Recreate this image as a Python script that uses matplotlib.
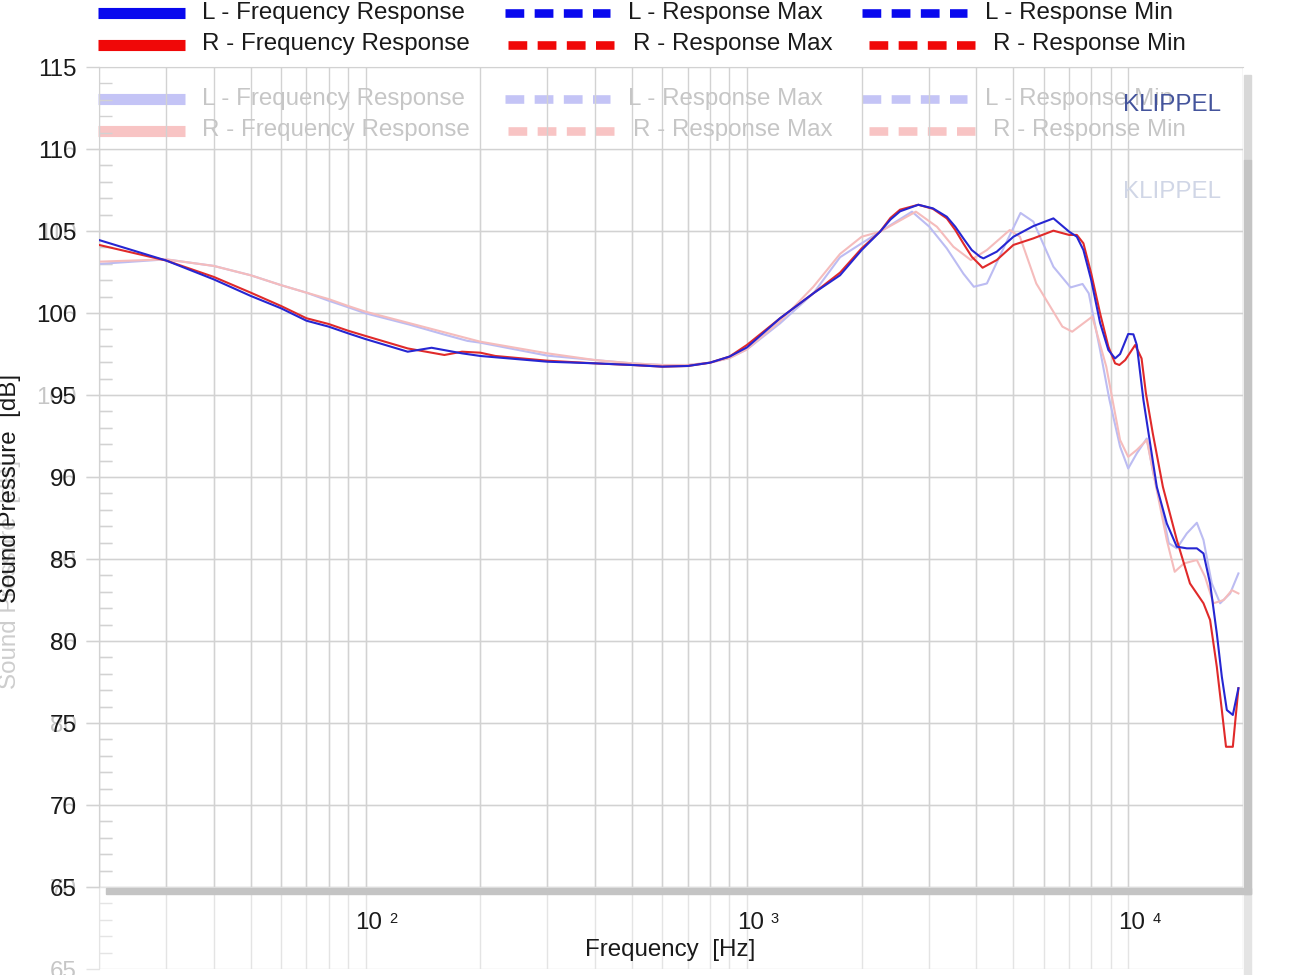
import matplotlib
matplotlib.use('Agg')
import matplotlib.pyplot as plt
from matplotlib.lines import Line2D
from matplotlib.patches import Rectangle
from matplotlib.transforms import offset_copy
import numpy as np

plt.rcParams['font.family'] = ['Liberation Sans', 'DejaVu Sans']
plt.rcParams['lines.scale_dashes'] = False

# ---------------- data ----------------
L_freq = [20, 30, 40, 50, 60, 70, 80, 90, 100, 129, 149, 179, 200, 219, 300, 400, 500, 600, 700, 800, 900, 1000,
          1222, 1494, 1755, 2000, 2235, 2380, 2522, 2816, 3076, 3344, 3520, 3696, 3888, 4089, 4172, 4522, 5000,
          5640, 6366, 7000, 7333, 7630, 8000, 8438, 8872, 9238, 9522, 10000, 10318, 10532, 10962, 11414, 11884,
          12622, 13412, 14246, 15136, 15754, 16396, 17074, 17600, 18140, 18808, 19454]
L_spl = [104.45, 103.2, 102.05, 101.04, 100.29, 99.53, 99.17, 98.76, 98.41, 97.64, 97.88, 97.54, 97.38, 97.3,
         97.03, 96.93, 96.83, 96.73, 96.77, 96.97, 97.34, 97.9, 99.68, 101.2, 102.3, 103.84, 104.96, 105.7, 106.2,
         106.6, 106.38, 105.87, 105.26, 104.55, 103.84, 103.43, 103.33, 103.74, 104.65, 105.3, 105.77, 104.96,
         104.65, 103.84, 102.0, 99.4, 97.74, 97.23, 97.5, 98.72, 98.7, 98.05, 94.7, 92.05, 89.4, 87.17, 85.75,
         85.65, 85.65, 85.34, 83.51, 80.46, 77.82, 75.79, 75.49, 77.12]

R_freq = [20, 30, 40, 50, 60, 70, 80, 90, 100, 129, 161, 179, 200, 219, 300, 400, 500, 600, 700, 800, 900, 1000,
          1222, 1494, 1755, 2000, 2235, 2380, 2522, 2816, 3076, 3344, 3520, 3696, 3888, 4089, 4150, 4522, 5000,
          5640, 6366, 7000, 7333, 7630, 8000, 8438, 8872, 9238, 9480, 9820, 10430, 10840, 11130, 11600, 12330,
          13412, 14520, 15754, 16396, 17074, 17600, 18050, 18808, 19454]
R_spl = [104.15, 103.2, 102.2, 101.24, 100.43, 99.68, 99.33, 98.92, 98.6, 97.84, 97.44, 97.64, 97.58, 97.38,
         97.09, 96.93, 96.83, 96.73, 96.77, 96.97, 97.34, 98.05, 99.68, 101.2, 102.46, 103.94, 104.96, 105.8,
         106.3, 106.6, 106.35, 105.77, 105.06, 104.24, 103.43, 102.92, 102.76, 103.23, 104.15, 104.55, 105.02,
         104.76, 104.76, 104.25, 102.4, 99.98, 97.95, 96.93, 96.83, 97.13, 98.05, 97.23, 95.1, 92.66, 89.4,
         86.16, 83.51, 82.3, 81.28, 78.43, 75.79, 73.55, 73.55, 77.12]

# faded (overlaid) comparison measurement
FL_freq = [20, 30, 40, 50, 60, 70, 80, 90, 100, 130, 160, 185, 200, 300, 400, 500, 600, 700, 800, 900, 1000,
           1222, 1494, 1755, 2000, 2235, 2710, 3010, 3344, 3696, 3937, 4260, 4730, 5220, 5640, 6366, 7060, 7590,
           7880, 8438, 8830, 8930, 9522, 10000, 10532, 11188, 11642, 12368, 12780, 13412, 14246, 15136, 15754,
           16566, 17420, 18506, 19454]
FL_spl = [102.99, 103.27, 102.87, 102.3, 101.7, 101.24, 100.75, 100.35, 99.98, 99.3, 98.7, 98.3, 98.19, 97.4,
          97.13, 96.93, 96.83, 96.83, 96.97, 97.25, 97.78, 99.37, 101.2, 103.4, 104.25, 104.96, 106.18, 105.26,
          103.94, 102.4, 101.6, 101.8, 104.04, 106.1, 105.57, 102.82, 101.56, 101.77, 101.2, 97.74, 95.3, 94.7,
          91.85, 90.52, 91.44, 92.35, 90.2, 87.57, 85.96, 85.65, 86.56, 87.21, 86.16, 83.51, 82.3, 82.9, 84.12]

FR_freq = [20, 30, 40, 50, 60, 70, 80, 90, 100, 200, 300, 400, 500, 600, 700, 800, 900, 1000, 1222, 1494, 1755,
           2000, 2235, 2775, 3150, 3480, 3867, 4260, 4890, 5200, 5740, 6720, 7130, 8050, 8760, 9520, 10000, 10532,
           11188, 11884, 12622, 13240, 14000, 15136, 15900, 16730, 17800, 18700, 19454]
FR_spl = [103.13, 103.27, 102.87, 102.3, 101.7, 101.24, 100.85, 100.43, 100.08, 98.25, 97.54, 97.13, 96.93,
          96.83, 96.83, 96.97, 97.25, 97.78, 99.5, 101.6, 103.6, 104.65, 104.96, 106.18, 105.26, 104.04, 103.23,
          103.84, 105.06, 104.65, 101.8, 99.17, 98.86, 99.78, 96.73, 92.26, 91.23, 91.65, 92.26, 89.2, 86.16,
          84.22, 84.73, 84.94, 83.92, 82.3, 82.5, 83.1, 82.9]

legend_labels = ['L - Frequency Response', 'L - Response Max', 'L - Response Min',
                 'R - Frequency Response', 'R - Response Max', 'R - Response Min']
y_ticks = list(range(65, 116, 5))
x_decades = [2, 3, 4]

# ---------------- styling ----------------
W, H = 1300, 975
FS = 17.4
BLUE, RED = '#2626d2', '#e02a2a'
LBLUE, LRED = '#0808ee', '#f00808'
FBLUE, FRED = '#bcbcf2', '#f5bcbc'
FLBLUE, FLRED = '#c4c4f6', '#f8c4c4'
TXT, FTXT = '#1a1a1a', '#c6c6c6'

fig = plt.figure(figsize=(13, 9.75), dpi=100)
fig.patch.set_facecolor('white')


def fx(x):
    return x / W


def fy(y):
    return 1 - y / H


L0, R0, T0, B0 = 99, 1243, 67, 887
FAINT_DY = 82
ax2 = fig.add_axes([fx(L0), fy(B0 + FAINT_DY), (R0 - L0) / W, (B0 - T0) / H], zorder=0)
ax = fig.add_axes([fx(L0), fy(B0), (R0 - L0) / W, (B0 - T0) / H], zorder=1)
ax.patch.set_alpha(0)
ax2.patch.set_alpha(0)

for a, gc, tc in [(ax2, '#e4e4e4', FTXT), (ax, '#d2d2d2', TXT)]:
    a.set_xscale('log')
    a.set_xlim(20, 20000)
    a.set_ylim(65, 115)
    a.set_yticks(y_ticks)
    a.set_yticklabels([str(v) for v in y_ticks])
    a.set_yticks(np.arange(65, 116, 1), minor=True)
    a.grid(True, which='both', axis='x', color=gc, lw=1)
    a.grid(True, which='major', axis='y', color=gc, lw=1)
    a.tick_params(axis='y', which='major', length=9.4, width=1, color=gc, direction='out',
                  labelsize=FS, labelcolor=tc, pad=6.5)
    a.tick_params(axis='y', which='minor', length=9, width=1, color=gc, direction='in')
    a.tick_params(axis='x', which='both', length=0, labelbottom=False)
    for s in a.spines.values():
        s.set_visible(False)
    a.spines['left'].set_visible(True)
    a.spines['left'].set_color(gc)
ax.spines['top'].set_visible(True)
ax.spines['top'].set_color('#d2d2d2')

# curves
ax.plot(FL_freq, FL_spl, color=FBLUE, lw=1.5, zorder=2)
ax.plot(FR_freq, FR_spl, color=FRED, lw=1.5, zorder=2)
ax.plot(L_freq, L_spl, color=BLUE, lw=1.5, zorder=4)
ax.plot(R_freq, R_spl, color=RED, lw=1.5, zorder=3)

# x tick labels 10^n
for n in x_decades:
    t1 = offset_copy(ax.get_xaxis_transform(), fig=fig, x=3.5, y=-42, units='dots')
    ax.text(10 ** n, 0, '10', transform=t1, ha='center', va='baseline', fontsize=FS, color=TXT, clip_on=False)
    t2 = offset_copy(ax.get_xaxis_transform(), fig=fig, x=24, y=-36, units='dots')
    ax.text(10 ** n, 0, str(n), transform=t2, ha='left', va='baseline', fontsize=10.5, color=TXT, clip_on=False)

# shadows (frame)
fig.add_artist(Rectangle((fx(1244), fy(975)), 7 / W, (975 - 160) / H, transform=fig.transFigure,
                         color='#e4e4e4', zorder=5))
fig.add_artist(Rectangle((fx(1244), fy(160)), 7 / W, (160 - 75) / H, transform=fig.transFigure,
                         color='#d8d8d8', zorder=6))
fig.add_artist(Rectangle((fx(1244), fy(894)), 7 / W, (894 - 160) / H, transform=fig.transFigure,
                         color='#c4c4c4', zorder=6))
fig.add_artist(Rectangle((fx(106), fy(894)), (1251 - 106) / W, 6 / H, transform=fig.transFigure,
                         color='#c4c4c4', zorder=6))

# axis labels
fig.text(fx(10), fy(574), 'Sound Pressure  [dB]', rotation=90, ha='center', va='center', fontsize=FS,
         color='#cdcdcd', zorder=1)
fig.text(fx(10), fy(488), 'Sound Pressure  [dB]', rotation=90, ha='center', va='center', fontsize=FS,
         color=TXT, zorder=2)
fig.text(fx(670), fy(950), 'Frequency  [Hz]', ha='center', va='center', fontsize=FS, color=TXT)

# KLIPPEL marks
fig.text(fx(1172), fy(192), 'KLIPPEL', ha='center', va='center', fontsize=FS, color='#d0d6e6')
fig.text(fx(1172), fy(105), 'KLIPPEL', ha='center', va='center', fontsize=FS, color='#44549c', zorder=8)

# legends (primary + faded copy)
slots = [(98, 185, 202, 0, 'solid'), (505, 610, 628, 0, 'dash'), (862, 967, 985, 0, 'dash'),
         (98, 185, 202, 1, 'solid'), (508, 614, 633, 1, 'dash'), (869, 975, 993, 1, 'dash')]
for dy, cols, tcol, zo in [(86, (FLBLUE, FLRED), FTXT, 1), (0, (LBLUE, LRED), TXT, 9)]:
    for lab, (x1, x2, xt, row, sty) in zip(legend_labels, slots):
        col = cols[row]
        yc = (12.8 if row == 0 else 45) + dy
        yb = (18.5 if row == 0 else 50) + dy
        if sty == 'solid':
            ln = Line2D([fx(x1), fx(x2)], [fy(yc), fy(yc)], transform=fig.transFigure, color=col,
                        lw=8, solid_capstyle='butt', zorder=zo)
        else:
            ln = Line2D([fx(x1), fx(x2)], [fy(yc), fy(yc)], transform=fig.transFigure, color=col,
                        lw=6.2, dashes=(13.5, 7.5), dash_capstyle='butt', zorder=zo)
        fig.add_artist(ln)
        fig.text(fx(xt), fy(yb), lab, ha='left', va='baseline', fontsize=FS, color=tcol, zorder=zo)

fig.savefig('out.png', dpi=100, facecolor='white')
